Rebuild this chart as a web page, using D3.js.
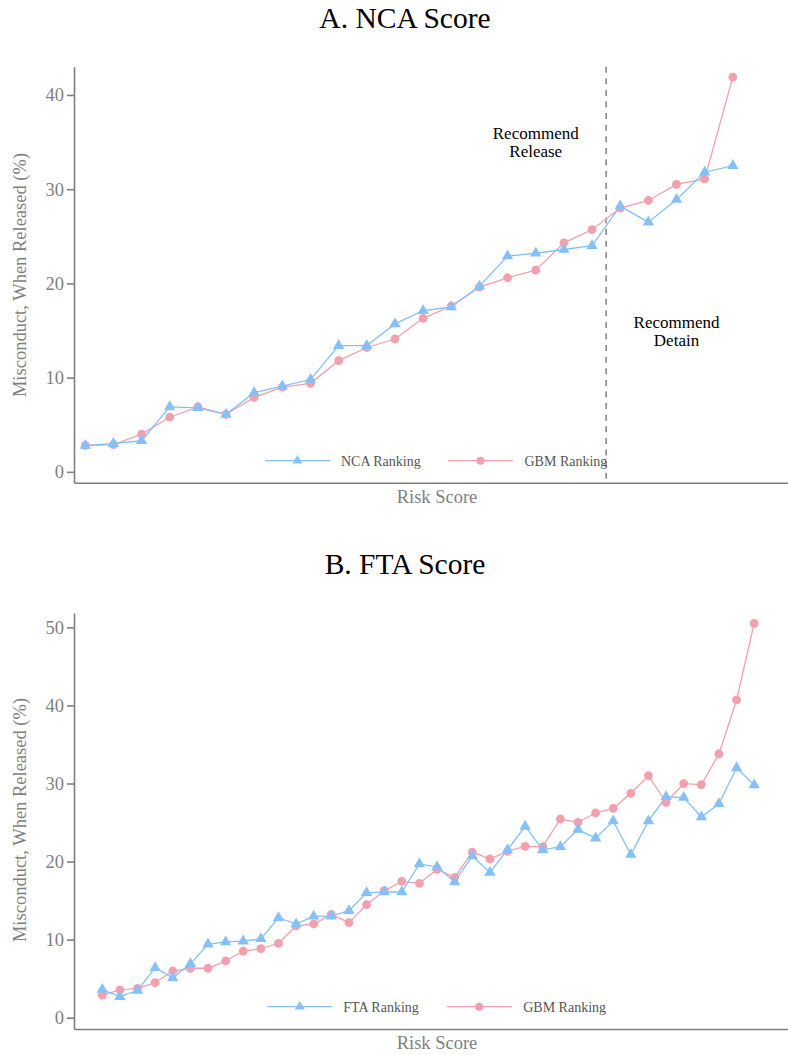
<!DOCTYPE html>
<html>
<head>
<meta charset="utf-8">
<script src="https://cdn.jsdelivr.net/npm/d3@7"></script>
<style>
  html, body { margin: 0; padding: 0; background: #fff; }
  svg { display: block; }
  text { font-family: "Liberation Serif", "Times New Roman", serif; }
</style>
</head>
<body>
<div id="chart"></div>
<script>
// Panel A: NCA score, 24 risk-score bins
const ncaRanking = [2.8, 3.0, 3.3, 6.9, 6.8, 6.1, 8.4, 9.1, 9.8, 13.4, 13.4, 15.7,
  17.1, 17.5, 19.7, 22.9, 23.2, 23.6, 24.0, 28.2, 26.5, 28.9, 31.8, 32.5];
const gbmRankingNCA = [2.8, 2.9, 4.0, 5.8, 6.9, 6.1, 7.9, 9.0, 9.4, 11.8, 13.2, 14.1,
  16.3, 17.6, 19.6, 20.6, 21.4, 24.3, 25.7, 28.0, 28.8, 30.5, 31.1, 41.9];

// Panel B: FTA score, 38 risk-score bins
const ftaRanking = [3.6, 2.7, 3.5, 6.4, 5.1, 6.9, 9.4, 9.7, 9.8, 10.1, 12.8, 12.0, 13.0,
  13.0, 13.7, 16.0, 16.1, 16.1, 19.7, 19.3, 17.4, 20.7, 18.6, 21.5, 24.5, 21.5, 21.9,
  24.1, 23.0, 25.2, 20.9, 25.2, 28.3, 28.2, 25.7, 27.4, 32.0, 29.8];
const gbmRankingFTA = [2.9, 3.55, 3.76, 4.48, 5.98, 6.33, 6.33, 7.26, 8.54, 8.84, 9.53,
  11.75, 12.0, 13.24, 12.17, 14.48, 16.27, 17.47, 17.21, 19.0, 17.98, 21.22, 20.33,
  21.31, 21.95, 21.91, 25.45, 25.03, 26.22, 26.82, 28.74, 31.0, 27.59, 29.97, 29.85,
  33.78, 40.7, 50.52];

const ticksA = [0, 10, 20, 30, 40];
const ticksB = [0, 10, 20, 30, 40, 50];
const releaseCutoff = 18.5;   // bin boundary between release and detain

const BLUE = "#85c1f8";
const PINK = "#f2a0ae";
const GREY = "#7f7f7f";

const W = 788, H = 1055;
const svg = d3.select("#chart").append("svg").attr("width", W).attr("height", H);

function panel(cfg) {
  const g = svg.append("g");
  const x = d3.scaleLinear().domain(cfg.xDomain).range([74, 788]);
  const y = d3.scaleLinear().domain(cfg.yDomain).range([cfg.bottom, cfg.top]);

  // title
  g.append("text").attr("x", 405).attr("y", cfg.top - 39)
    .attr("text-anchor", "middle").attr("font-size", 29.5).attr("fill", "#000")
    .text(cfg.title);

  // y axis
  const yAxis = d3.axisLeft(y).tickValues(cfg.yTicks).tickSize(7).tickPadding(3).tickSizeOuter(0);
  const ya = g.append("g").attr("transform", "translate(74,0)").call(yAxis);
  ya.select(".domain").attr("stroke", GREY).attr("stroke-width", 1.6);
  ya.selectAll(".tick line").attr("stroke", GREY).attr("stroke-width", 1.6);
  ya.selectAll(".tick text").attr("fill", GREY).attr("font-size", 18.5)
    .attr("font-family", "Liberation Serif, serif");

  // x axis (no ticks)
  const xAxis = d3.axisBottom(x).tickValues([]).tickSizeOuter(0);
  const xa = g.append("g").attr("transform", `translate(0,${cfg.bottom})`).call(xAxis);
  xa.select(".domain").attr("stroke", GREY).attr("stroke-width", 1.6);

  g.append("text").attr("x", 437).attr("y", cfg.bottom + 20)
    .attr("text-anchor", "middle").attr("font-size", 18.5).attr("fill", GREY)
    .text("Risk Score");

  g.append("text")
    .attr("transform", `translate(26,${cfg.yTitleCenter}) rotate(-90)`)
    .attr("text-anchor", "middle").attr("font-size", 18.5).attr("fill", GREY)
    .text("Misconduct, When Released (%)");

  if (cfg.extra) cfg.extra(g, x, y);

  const line = d3.line().x((d, i) => x(i)).y(d => y(d));
  const series = [
    { values: cfg.gbm, color: PINK, shape: "circle" },
    { values: cfg.base, color: BLUE, shape: "triangle" }
  ];
  series.forEach(s => {
    g.append("path").datum(s.values).attr("d", line)
      .attr("fill", "none").attr("stroke", s.color).attr("stroke-width", 1.3);
  });
  const tri = d3.symbol().type(d3.symbolTriangle).size(56);
  series.forEach(s => {
    if (s.shape === "circle") {
      g.selectAll(null).data(s.values).enter().append("circle")
        .attr("cx", (d, i) => x(i)).attr("cy", d => y(d)).attr("r", 4.4)
        .attr("fill", s.color);
    } else {
      g.selectAll(null).data(s.values).enter().append("path")
        .attr("d", tri)
        .attr("transform", (d, i) => `translate(${x(i)},${y(d)})`)
        .attr("fill", s.color);
    }
  });

  // legend
  const ly = cfg.legendY;
  const lg = g.append("g");
  lg.append("line").attr("x1", cfg.legendX).attr("x2", cfg.legendX + 65)
    .attr("y1", ly).attr("y2", ly).attr("stroke", BLUE).attr("stroke-width", 1.3);
  lg.append("path").attr("d", d3.symbol().type(d3.symbolTriangle).size(44))
    .attr("transform", `translate(${cfg.legendX + 32.5},${ly})`).attr("fill", BLUE);
  lg.append("text").attr("x", cfg.legendX + 76).attr("y", ly + 5.5)
    .attr("font-size", 14).attr("fill", "#555").text(cfg.baseLabel);
  const l2 = cfg.legendX + cfg.legendGap;
  lg.append("line").attr("x1", l2).attr("x2", l2 + 65)
    .attr("y1", ly).attr("y2", ly).attr("stroke", PINK).attr("stroke-width", 1.3);
  lg.append("circle").attr("cx", l2 + 32.5).attr("cy", ly).attr("r", 4)
    .attr("fill", PINK);
  lg.append("text").attr("x", l2 + 76.5).attr("y", ly + 5.5)
    .attr("font-size", 14).attr("fill", "#555").text("GBM Ranking");
}

panel({
  title: "A. NCA Score",
  base: ncaRanking, gbm: gbmRankingNCA, baseLabel: "NCA Ranking",
  xDomain: [-0.4, 24.96], yDomain: [-1.15, 43], yTicks: ticksA,
  top: 66.7, bottom: 482.7, yTitleCenter: 275,
  legendX: 265, legendY: 460.7, legendGap: 183,
  extra: (g, x, y) => {
    g.append("line").attr("x1", x(releaseCutoff)).attr("x2", x(releaseCutoff))
      .attr("y1", y(43)).attr("y2", y(-1.15))
      .attr("stroke", GREY).attr("stroke-width", 1.5).attr("stroke-dasharray", "6,5.6");
    const note = (xi, v1, v2, l1, l2) => {
      g.append("text").attr("x", x(xi)).attr("y", y(v1)).attr("text-anchor", "middle")
        .attr("font-size", 17).attr("fill", "#000").text(l1);
      g.append("text").attr("x", x(xi)).attr("y", y(v2)).attr("text-anchor", "middle")
        .attr("font-size", 17).attr("fill", "#000").text(l2);
    };
    note(16, 35.3, 33.4, "Recommend", "Release");
    note(21, 15.3, 13.4, "Recommend", "Detain");
  }
});

panel({
  title: "B. FTA Score",
  base: ftaRanking, gbm: gbmRankingFTA, baseLabel: "FTA Ranking",
  xDomain: [-1.606, 38.92], yDomain: [-1.45, 51.84], yTicks: ticksB,
  top: 613, bottom: 1029, yTitleCenter: 820,
  legendX: 267.3, legendY: 1006.7, legendGap: 179.4
});
</script>
</body>
</html>
